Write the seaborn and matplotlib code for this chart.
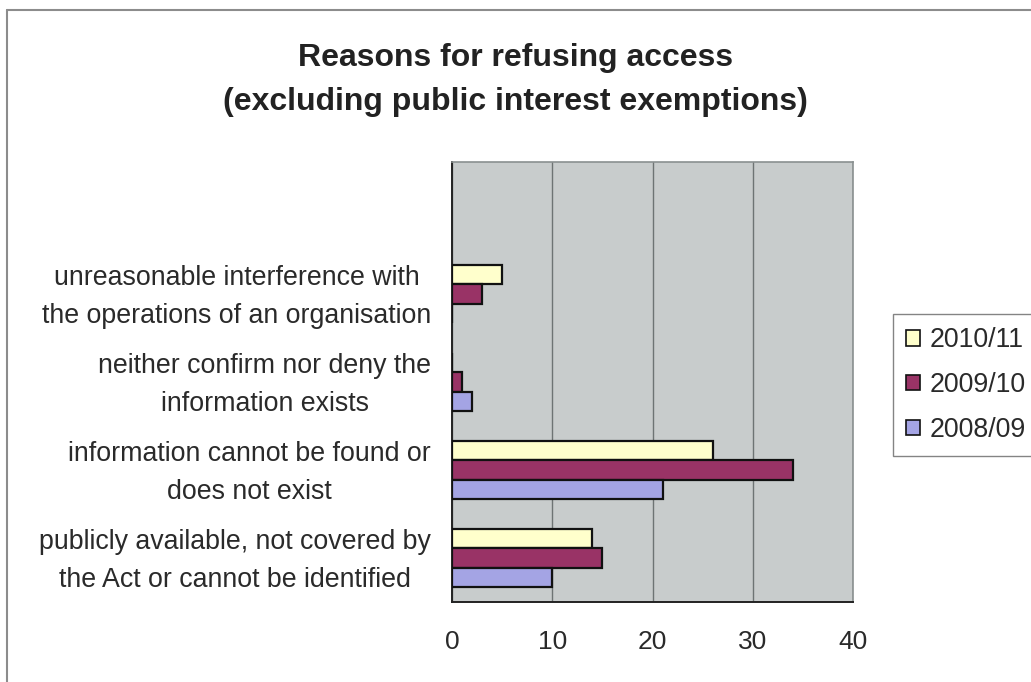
import matplotlib
matplotlib.use("Agg")
import matplotlib.pyplot as plt
from matplotlib.lines import Line2D
import seaborn as sns
import pandas as pd

# Reasons for refusal, listed top to bottom as drawn
categories = [
    "unreasonable interference with\nthe operations of an organisation",
    "neither confirm nor deny the\ninformation exists",
    "information cannot be found or\ndoes not exist",
    "publicly available, not covered by\nthe Act or cannot be identified",
]
years = ["2010/11", "2009/10", "2008/09"]
values_2010_11 = [5, 0, 26, 14]
values_2009_10 = [3, 1, 34, 15]
values_2008_09 = [0, 2, 21, 10]
x_ticks = [0, 10, 20, 30, 40]

colors = {"2010/11": "#FFFFCC", "2009/10": "#993366", "2008/09": "#A4A4E4"}

rows = []
for year, vals in zip(years, [values_2010_11, values_2009_10, values_2008_09]):
    for cat, v in zip(categories, vals):
        rows.append({"reason": cat, "year": year, "count": v})
df = pd.DataFrame(rows)

sns.set_theme(style="white")
plt.rcParams["font.family"] = ["Liberation Sans", "DejaVu Sans"]

fig = plt.figure(figsize=(10.31, 6.82), dpi=100)
ax = fig.add_axes([0.4384, 0.1173, 0.8274 - 0.4384, 0.7625 - 0.1173])
ax.set_facecolor("#C8CCCC")

sns.barplot(
    data=df, y="reason", x="count", hue="year",
    order=categories, hue_order=years, palette=colors, saturation=1,
    orient="h", width=0.67, edgecolor="#111111", linewidth=1.6,
    ax=ax, zorder=3,
)

# one empty slot above the first reason
ax.set_ylim(len(categories) - 0.5, -1.5)
ax.set_xlim(0, 40)
ax.set_xticks(x_ticks)
ax.set_xticklabels([str(t) for t in x_ticks], fontsize=19, color="#2A2A2A")
ax.tick_params(axis="x", direction="out", length=7, width=1.2, color="#222222", pad=13)

bounds = [i - 0.5 for i in range(-1, len(categories) + 1)]
ax.set_yticks(bounds)
ax.set_yticklabels([""] * len(bounds))
# category labels sit slightly above the middle of each slot
ax.set_yticks([i - 0.07 for i in range(len(categories))], minor=True)
ax.set_yticklabels(categories, minor=True, fontsize=19.3, color="#2A2A2A",
                   ha="right", multialignment="center", linespacing=1.6)
ax.tick_params(axis="y", which="major", direction="out", length=8, width=1.2,
               color="#222222")
ax.tick_params(axis="y", which="minor", length=0, pad=15)

ax.grid(axis="x", color="#6E7474", linewidth=1.0, zorder=0)
ax.set_axisbelow(True)
for side in ["top", "right"]:
    ax.spines[side].set_color("#8A9090")
    ax.spines[side].set_linewidth(1.2)
for side in ["left", "bottom"]:
    ax.spines[side].set_color("#222222")
    ax.spines[side].set_linewidth(1.4)
ax.set_xlabel("")
ax.set_ylabel("")

leg = ax.legend(
    loc="upper left", bbox_to_anchor=(893 / 1031, 1 - 314 / 682),
    bbox_transform=fig.transFigure, fontsize=19.3, frameon=True, fancybox=False,
    handlelength=0.52, handleheight=0.52, handletextpad=0.35, labelspacing=0.7,
    borderpad=0.5, borderaxespad=0,
)
leg.get_frame().set_edgecolor("#666666")
leg.get_frame().set_linewidth(1.0)
for h in leg.legend_handles:
    h.set_edgecolor("#111111")
    h.set_linewidth(1.2)
for t in leg.get_texts():
    t.set_color("#2A2A2A")

fig.text(0.5, 1 - 80 / 682, "Reasons for refusing access\n(excluding public interest exemptions)",
         ha="center", va="center", fontsize=23, fontweight="bold",
         color="#222222", linespacing=1.65)

# outer chart border
fig.add_artist(Line2D([7 / 1031, 7 / 1031], [0, 1 - 10 / 682],
                      transform=fig.transFigure, color="#8C8C8C", linewidth=1.5))
fig.add_artist(Line2D([7 / 1031, 1], [1 - 10 / 682, 1 - 10 / 682],
                      transform=fig.transFigure, color="#8C8C8C", linewidth=1.5))

fig.savefig("out.png", dpi=100, facecolor="white")
